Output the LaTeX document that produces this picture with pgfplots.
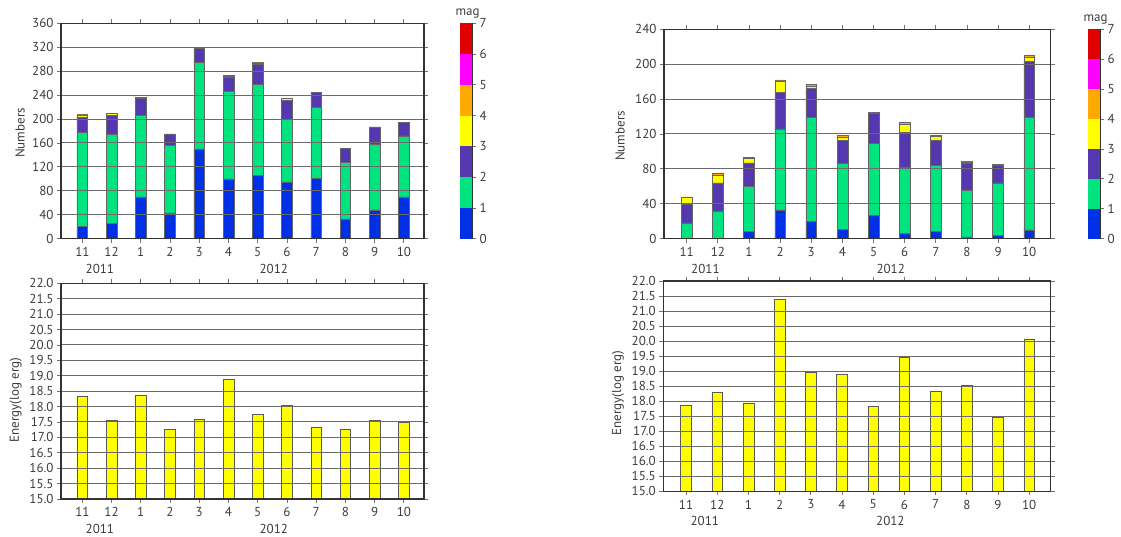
\documentclass[border=0pt]{standalone}
\usepackage{fontspec}
\setmainfont{PT Sans}
\usepackage{pgfplots}
\usepackage{pgfplotstable}
\pgfplotsset{compat=1.18}

% magnitude classes
\definecolor{m0}{RGB}{0,48,230}
\definecolor{m1}{RGB}{0,228,128}
\definecolor{m2}{RGB}{85,55,175}
\definecolor{m3}{RGB}{255,255,0}
\definecolor{m4}{RGB}{255,170,0}
\definecolor{m5}{RGB}{255,0,255}
\definecolor{m6}{RGB}{225,0,0}
\definecolor{txt}{RGB}{60,60,60}

% monthly event counts per magnitude class (0-1, 1-2, 2-3, 3-4, 4-5)
\pgfplotstableread{
i  b    g    p   y  o
0  20   158  25  4  1
1  26   148  32  3  1
2  70   136  28  1  1
3  43   113  19  0  0
4  150  145  24  0  1
5  100  146  24  1  2
6  106  152  34  2  1
7  95   104  32  3  1
8  101  118  25  0  0
9  33   94   24  0  0
10 48   110  29  0  0
11 70   102  22  0  0
}\countsA
\pgfplotstableread{
i  b    g    p   y  o
0  0    18   22  7  1
1  0    32   32  9  2
2  8    52   27  5  1
3  33   93   42  13 1
4  20   119  33  3  2
5  11   75   27  3  2
6  27   82   35  1  0
7  6    76   40  9  2
8  8    76   29  4  1
9  2    54   30  2  1
10 4    60   20  0  1
11 10   129  64  5  2
}\countsB
% monthly released energy, log erg
\pgfplotstableread{
i  e
0  18.33
1  17.54
2  18.38
3  17.25
4  17.59
5  18.88
6  17.74
7  18.03
8  17.33
9  17.26
10 17.54
11 17.48
}\energyA
\pgfplotstableread{
i  e
0  17.86
1  18.31
2  17.94
3  21.38
4  18.97
5  18.88
6  17.84
7  19.46
8  18.32
9  18.52
10 17.47
11 20.07
}\energyB

\newcommand\tickfont{\fontsize{13}{13}\selectfont}

\pgfplotsset{
  panel/.style={
    scale only axis, axis on top, clip mode=individual,
    xmin=-0.73, xmax=11.69,
    xtick={0,...,11},
    xticklabels={11,12,1,2,3,4,5,6,7,8,9,10},
    xticklabel style={yshift=-1pt},
    tick align=outside, tick pos=both,
    major tick length=4pt,
    ymajorgrids,
    grid style={black!58, line width=1pt},
    axis line style={black!80, line width=1.1pt},
    tick style={black!55, line width=0.8pt},
    ticklabel style={font=\tickfont, text=txt},
    label style={font=\tickfont, text=txt},
    /pgf/number format/assume math mode=true,
    bar width=10.7pt,
  },
  % the label is rotated: yshift moves it left, xshift moves it up
  counts/.style={panel, ybar stacked, ymin=0,
    ylabel={Numbers},
    ylabel style={at={(rel axis cs:0,0.5)}, anchor=center}},
  energy/.style={panel, ybar, ymin=15, ymax=22, ytick={15,15.5,...,22},
    yticklabel style={/pgf/number format/.cd, fixed, fixed zerofill, precision=1},
    ylabel={Energy(log erg)},
    ylabel style={at={(rel axis cs:0,0.5)}, anchor=center}},
  seg/.style={fill=#1, draw=black!60, line width=0.5pt},
  ebar/.style={fill=m3, draw=black!65, line width=0.6pt},
  cbar/.style={scale only axis, clip=false, width=12pt, xmin=0, xmax=1, ymin=0, ymax=7,
    xtick=\empty, ytick={0,...,7}, ytick pos=right, yticklabel pos=right,
    tick align=outside, major tick length=4pt,
    axis line style={black!80, line width=0.8pt},
    tick style={black!55, line width=0.8pt},
    ticklabel style={font=\tickfont, text=txt},
    /pgf/number format/assume math mode=true},
}

\newcommand\years[1]{%
  \node[font=\tickfont, text=txt] at ([yshift=-30pt]axis cs:0.6,#1) {2011};
  \node[font=\tickfont, text=txt] at ([yshift=-30pt]axis cs:6.55,#1) {2012};
}
\newcommand\magbar{%
  \fill[m0] (axis cs:0,0) rectangle (axis cs:1,1);
  \fill[m1] (axis cs:0,1) rectangle (axis cs:1,2);
  \fill[m2] (axis cs:0,2) rectangle (axis cs:1,3);
  \fill[m3] (axis cs:0,3) rectangle (axis cs:1,4);
  \fill[m4] (axis cs:0,4) rectangle (axis cs:1,5);
  \fill[m5] (axis cs:0,5) rectangle (axis cs:1,6);
  \fill[m6] (axis cs:0,6) rectangle (axis cs:1,7);
  \node[font=\tickfont, text=txt, anchor=south] at ([yshift=1.5pt,xshift=1.5pt]rel axis cs:0.5,1) {mag};
}

\begin{document}
\begin{tikzpicture}
\useasboundingbox (0pt,0pt) rectangle (1121pt,536pt);

% ---- counts, left region
\begin{axis}[counts, at={(61pt,297.3pt)}, anchor=south west,
  width=363pt, height=215.4pt, ymax=360, ytick={0,40,...,360},
  ylabel style={yshift=41pt, xshift=-2pt}]
  \addplot[seg=m0] table[x=i, y=b] {\countsA};
  \addplot[seg=m1] table[x=i, y=g] {\countsA};
  \addplot[seg=m2] table[x=i, y=p] {\countsA};
  \addplot[seg=m3] table[x=i, y=y] {\countsA};
  \addplot[seg=m4] table[x=i, y=o] {\countsA};
  \years{0}
\end{axis}
\begin{axis}[cbar, at={(460pt,297.3pt)}, anchor=south west, height=215.4pt]
  \magbar
\end{axis}

% ---- counts, right region
\begin{axis}[counts, at={(664pt,297.3pt)}, anchor=south west,
  width=386.7pt, height=209.4pt, ymax=240, ytick={0,40,...,240},
  ylabel style={yshift=44pt, xshift=-2pt}]
  \addplot[seg=m0] table[x=i, y=b] {\countsB};
  \addplot[seg=m1] table[x=i, y=g] {\countsB};
  \addplot[seg=m2] table[x=i, y=p] {\countsB};
  \addplot[seg=m3] table[x=i, y=y] {\countsB};
  \addplot[seg=m4] table[x=i, y=o] {\countsB};
  \years{0}
\end{axis}
\begin{axis}[cbar, at={(1088pt,297.3pt)}, anchor=south west, height=209.4pt]
  \magbar
\end{axis}

% ---- energy, left region
\begin{axis}[energy, at={(61pt,37pt)}, anchor=south west,
  width=363pt, height=215.7pt,
  ylabel style={yshift=45.3pt, xshift=-9pt}]
  \addplot[ebar] table[x=i, y=e] {\energyA};
  \years{15}
\end{axis}

% ---- energy, right region
\begin{axis}[energy, at={(663.3pt,44.7pt)}, anchor=south west,
  width=387.4pt, height=210.3pt,
  ylabel style={yshift=45.3pt, xshift=-7pt}]
  \addplot[ebar] table[x=i, y=e] {\energyB};
  \years{15}
\end{axis}
\end{tikzpicture}
\end{document}
